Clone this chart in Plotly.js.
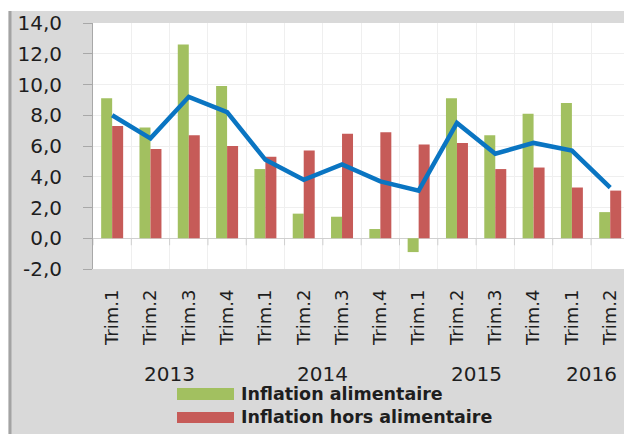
<!DOCTYPE html>
<html>
<head>
<meta charset="utf-8">
<script src="https://cdn.plot.ly/plotly-3.0.1.min.js"></script>
<style>html,body{margin:0;padding:0;background:#fff;}#chart{width:624px;height:434px;}</style>
</head>
<body>
<div id="chart"></div>
<script>
// ---- data ----
const years = ['2013','2013','2013','2013','2014','2014','2014','2014','2015','2015','2015','2015','2016','2016'];
const quarters = ['Trim.1','Trim.2','Trim.3','Trim.4','Trim.1','Trim.2','Trim.3','Trim.4','Trim.1','Trim.2','Trim.3','Trim.4','Trim.1','Trim.2'];
const inflationAlimentaire = [9.1, 7.2, 12.6, 9.9, 4.5, 1.6, 1.4, 0.6, -0.9, 9.1, 6.7, 8.1, 8.8, 1.7];
const inflationHorsAlimentaire = [7.3, 5.8, 6.7, 6.0, 5.3, 5.7, 6.8, 6.9, 6.1, 6.2, 4.5, 4.6, 3.3, 3.1];
const inflationGlobale = [8.0, 6.5, 9.2, 8.2, 5.1, 3.8, 4.8, 3.7, 3.1, 7.5, 5.5, 6.2, 5.7, 3.3];
const yTickVals = [-2, 0, 2, 4, 6, 8, 10, 12, 14];
const yTickLabels = ['-2,0', '0,0', '2,0', '4,0', '6,0', '8,0', '10,0', '12,0', '14,0'];
const legendNames = ['Inflation alimentaire', 'Inflation hors alimentaire'];

// ---- layout helpers (pixel -> paper) ----
const L = 93, T = 23, W = 531, H = 246;
const px = v => (v - L) / W;
const py = v => (T + H - v) / H;

const idx = quarters.map((_, i) => i);
const green = '#a2c060', red = '#c65b58', blue = '#0a75c2';
const textColor = '#1e1e1e';
const font = 'DejaVu Sans';

const traces = [
  {type: 'bar', x: idx, y: inflationAlimentaire, name: legendNames[0], marker: {color: green}, showlegend: false, hoverinfo: 'y'},
  {type: 'bar', x: idx, y: inflationHorsAlimentaire, name: legendNames[1], marker: {color: red}, showlegend: false, hoverinfo: 'y'},
  {type: 'scatter', mode: 'lines', x: idx, y: inflationGlobale, name: 'Inflation globale', line: {color: blue, width: 4.5}, showlegend: false}
];

// year labels centred on their quarters
const uniqueYears = [...new Set(years)];
const yearAnn = uniqueYears.map(yr => {
  const ids = idx.filter(i => years[i] === yr);
  const c = (ids[0] + ids[ids.length - 1]) / 2;
  return {xref: 'x', yref: 'paper', x: c, y: py(373.5), text: yr, showarrow: false,
          xanchor: 'center', yanchor: 'middle', font: {family: font, size: 20, color: textColor}};
});

const shapes = [
  // white top strip and left strip
  {type: 'rect', xref: 'paper', yref: 'paper', x0: px(0), x1: px(624), y0: py(0), y1: py(11), fillcolor: '#ffffff', line: {width: 0}, layer: 'below'},
  {type: 'rect', xref: 'paper', yref: 'paper', x0: px(0), x1: px(8.5), y0: py(0), y1: py(434), fillcolor: '#ffffff', line: {width: 0}, layer: 'below'},
  {type: 'line', xref: 'paper', yref: 'paper', x0: px(10), x1: px(10), y0: py(11), y1: py(434), line: {color: '#a3a3a3', width: 3}, layer: 'below'},
  // legend swatches
  {type: 'rect', xref: 'paper', yref: 'paper', x0: px(177), x1: px(234), y0: py(400), y1: py(388), fillcolor: green, line: {width: 0}},
  {type: 'rect', xref: 'paper', yref: 'paper', x0: px(177), x1: px(234), y0: py(423), y1: py(412), fillcolor: red, line: {width: 0}}
];
// category boundary ticks on the zero line
for (let i = 0; i <= quarters.length; i++) {
  shapes.push({type: 'line', xref: 'x', yref: 'y', ysizemode: 'pixel', yanchor: 0,
               x0: i - 0.5, x1: i - 0.5, y0: 0, y1: -7, line: {color: '#cfcfcf', width: 1}});
}

const legendAnn = legendNames.map((n, k) => ({
  xref: 'paper', yref: 'paper', x: px(239), y: py(k === 0 ? 393.5 : 417.5), text: n, showarrow: false,
  xanchor: 'left', yanchor: 'middle', font: {family: font, size: 17.5, weight: 'bold', color: textColor}
}));

const layout = {
  width: 624, height: 434,
  margin: {l: L, r: 624 - L - W, t: T, b: 434 - T - H, pad: 0},
  paper_bgcolor: '#d9d9d9',
  plot_bgcolor: '#ffffff',
  showlegend: false,
  barmode: 'group', bargap: 0.426, bargroupgap: 0,
  font: {family: font, color: textColor},
  xaxis: {
    range: [-0.5, 13.36], tickmode: 'array', tickvals: idx, ticktext: quarters,
    tickangle: -90, ticks: '', showgrid: false, zeroline: false, showline: false,
    ticklabelstandoff: 16,
    tickfont: {family: font, size: 18, color: textColor},
    minor: {tick0: 0.5, dtick: 1, showgrid: true, gridcolor: '#efefef', gridwidth: 1, ticks: ''}
  },
  yaxis: {
    range: [-2, 14], tickmode: 'array', tickvals: yTickVals, ticktext: yTickLabels,
    showline: true, linecolor: '#a8a8a8', linewidth: 1,
    ticks: 'outside', ticklen: 9, tickcolor: '#a8a8a8', tickwidth: 1,
    showgrid: true, gridcolor: '#efefef', gridwidth: 1,
    zeroline: true, zerolinecolor: '#d0d0d0', zerolinewidth: 1.5,
    ticklabelstandoff: 17,
    tickfont: {family: font, size: 20, color: textColor}
  },
  shapes: shapes,
  annotations: yearAnn.concat(legendAnn)
};

Plotly.newPlot('chart', traces, layout, {displayModeBar: false, staticPlot: true});
</script>
</body>
</html>
